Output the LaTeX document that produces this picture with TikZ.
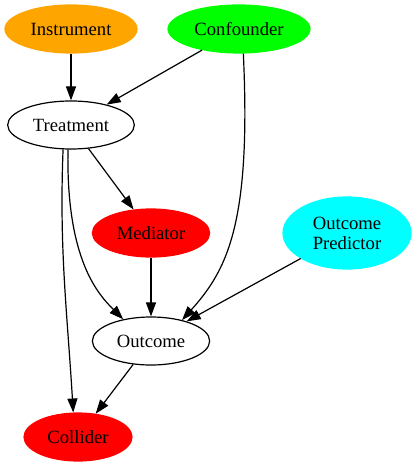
\documentclass[tikz,border=0pt]{standalone}
\usepackage{fontspec}
\setmainfont{Liberation Serif}
\usepackage{tikz}
\usetikzlibrary{arrows.meta,shapes.geometric}

\definecolor{gvorange}{HTML}{FFA500}
\definecolor{gvgreen}{HTML}{00FF00}
\definecolor{gvred}{HTML}{FF0000}
\definecolor{gvcyan}{HTML}{00FFFF}

\begin{document}
\begin{tikzpicture}[x=0.75pt,y=-0.75pt,
  var/.style={ellipse,draw=black,line width=0.9pt,inner sep=0pt,minimum height=36pt,
    align=center,font=\fontsize{14}{15}\selectfont},
  filledvar/.style={var,draw=#1,fill=#1}]
\useasboundingbox (0,0) rectangle (416,466);
\begin{scope}[>={Triangle[length=10.5pt,width=7.5pt]},line width=0.9pt]

    \node[filledvar=gvorange,minimum width=99pt] (instr) at (71,29) {Instrument};
    \node[filledvar=gvgreen,minimum width=106.5pt] (conf) at (239,29) {Confounder};
    \node[var,minimum width=95pt] (treat) at (71,125) {Treatment};
    \node[filledvar=gvred,minimum width=88pt] (med) at (151,233) {Mediator};
    \node[filledvar=gvcyan,minimum width=96pt,minimum height=54pt] (pred) at (347,233) {Outcome\\Predictor};
    \node[var,minimum width=88pt] (outc) at (151,341) {Outcome};
    \node[filledvar=gvred,minimum width=81pt] (coll) at (78,437) {Collider};

    \draw[->] (instr) -- (treat);
    \draw[->] (conf) -- (treat);
    \draw[->] (conf.-80) .. controls +(8,170) and +(45,-50) .. (outc.34);
    \draw[->] (treat) -- (med);
    \draw[->] (treat.-97) .. controls +(-2,110) and +(-25,-25) .. (outc.142);
    \draw[->] (treat.-108) .. controls +(-4,100) and +(-6,-100) .. (coll.101);
    \draw[->] (med) -- (outc);
    \draw[->] (pred) -- (outc);
    \draw[->] (outc) -- (coll);
\end{scope}
\end{tikzpicture}
\end{document}
